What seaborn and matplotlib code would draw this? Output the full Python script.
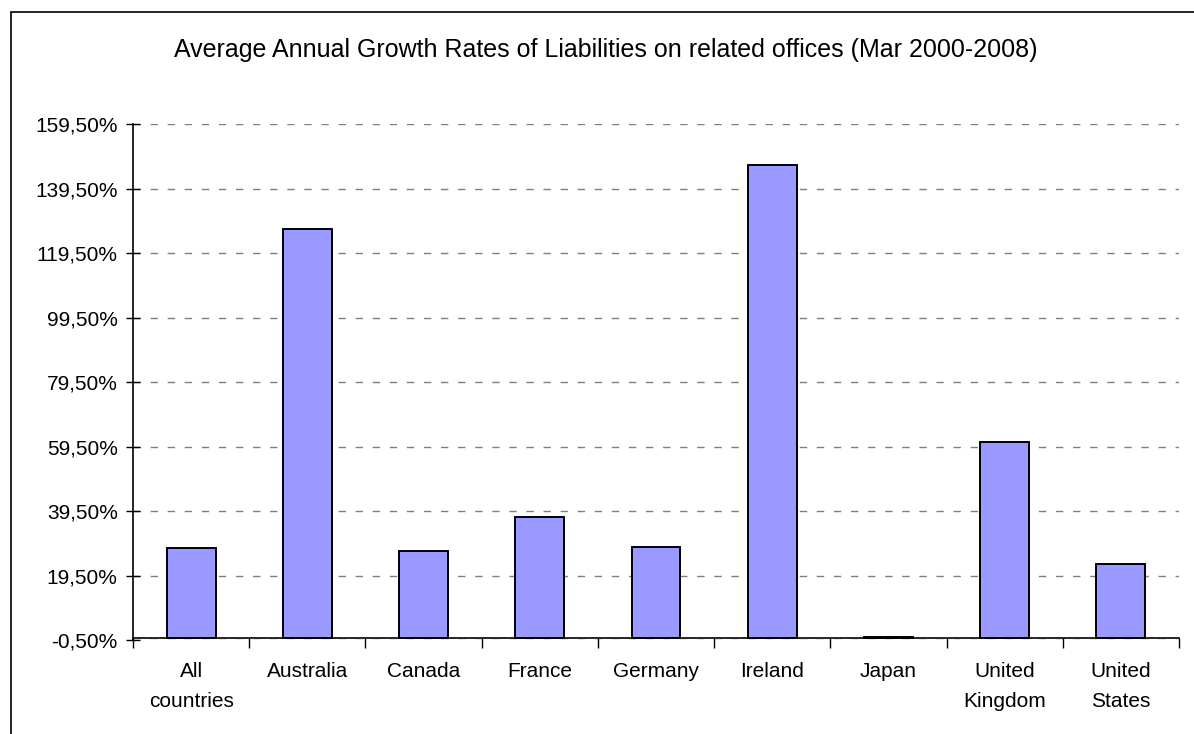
import matplotlib
matplotlib.use("Agg")
import matplotlib.pyplot as plt
import matplotlib.ticker as mticker
from matplotlib.patches import Rectangle
import seaborn as sns
import pandas as pd

# Average annual growth rates (%) by country
categories = ["All\ncountries", "Australia", "Canada", "France", "Germany",
              "Ireland", "Japan", "United\nKingdom", "United\nStates"]
growth = [28.0, 127.0, 27.2, 37.6, 28.5, 146.9, 0.3, 61.0, 23.1]
y_ticks = [-0.5, 19.5, 39.5, 59.5, 79.5, 99.5, 119.5, 139.5, 159.5]

sns.set_theme(style="white")
plt.rcParams["font.family"] = ["Liberation Sans", "DejaVu Sans"]
plt.rcParams["text.color"] = "black"
plt.rcParams["xtick.color"] = "black"
plt.rcParams["ytick.color"] = "black"

df = pd.DataFrame({"country": categories, "growth": growth})

fig = plt.figure(figsize=(11.94, 7.34), dpi=100)
ax = fig.add_axes([133 / 1194, 1 - 640 / 734, (1179 - 133) / 1194, (640 - 124.3) / 734])

sns.barplot(data=df, x="country", y="growth", color="#9999FF",
            saturation=1, edgecolor="black", linewidth=1.4, width=0.42, ax=ax)

ax.set_xlim(-0.5, len(categories) - 0.5)
ax.set_ylim(y_ticks[0], y_ticks[-1])

# dashed horizontal gridlines
for t in y_ticks:
    ax.axhline(t, color="#7f7f7f", lw=1.0, dashes=(5.3, 7.0), zorder=0)

ax.yaxis.set_major_locator(mticker.FixedLocator(y_ticks))
ax.yaxis.set_major_formatter(
    mticker.FuncFormatter(lambda v, p: f"{v:.2f}%".replace(".", ",")))
ax.tick_params(axis="y", which="major", direction="inout", length=10,
               width=1.0, color="black", labelsize=15, labelcolor="black",
               pad=6, left=True)

# tick marks between categories; category names written under each bar
ax.set_xticks([i - 0.5 for i in range(len(categories) + 1)])
ax.set_xticklabels([])
ax.tick_params(axis="x", which="major", direction="out", length=7,
               width=1.0, color="black", bottom=True)
for i, name in enumerate(categories):
    ax.annotate(name, xy=(i, 0), xycoords="data", xytext=(0, -17),
                textcoords="offset points", ha="center", va="top",
                fontsize=15, linespacing=1.75, color="black",
                annotation_clip=False)

ax.set_xlabel("")
ax.set_ylabel("")

for side in ("top", "right"):
    ax.spines[side].set_visible(False)
ax.spines["left"].set_color("black")
ax.spines["left"].set_linewidth(1.2)
ax.spines["bottom"].set_color("black")
ax.spines["bottom"].set_linewidth(1.2)
ax.spines["bottom"].set_position(("data", 0))

fig.text(0.507, 0.932, "Average Annual Growth Rates of Liabilities on related offices (Mar 2000-2008)",
         ha="center", va="center", fontsize=18, color="black")

# outer chart frame
fig.patches.append(Rectangle((11 / 1194, -0.2), 1.2, 1.2 - 12 / 734,
                             transform=fig.transFigure, fill=False,
                             edgecolor="black", linewidth=1.2))

fig.savefig("out.png", dpi=100)
